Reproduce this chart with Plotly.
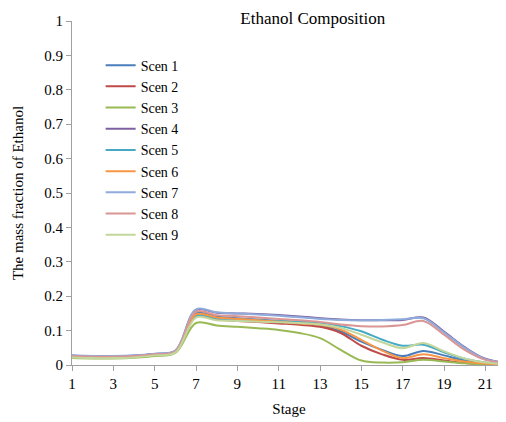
import plotly.graph_objects as go

stages = list(range(1, 23))
scen_names = ["Scen 1", "Scen 2", "Scen 3", "Scen 4", "Scen 5", "Scen 6", "Scen 7", "Scen 8", "Scen 9"]

scen1 = [0.027,0.025,0.025,0.027,0.032,0.040,0.150,0.140,0.136,0.132,0.128,0.123,0.115,0.098,0.068,0.044,0.026,0.041,0.028,0.013,0.006,0.003]
scen2 = [0.024,0.022,0.022,0.024,0.029,0.038,0.140,0.132,0.128,0.125,0.121,0.117,0.111,0.093,0.056,0.031,0.015,0.020,0.013,0.006,0.003,0.001]
scen3 = [0.020,0.019,0.019,0.021,0.026,0.035,0.122,0.115,0.111,0.107,0.102,0.093,0.078,0.044,0.013,0.007,0.008,0.015,0.010,0.005,0.002,0.001]
scen4 = [0.027,0.025,0.025,0.027,0.032,0.041,0.160,0.152,0.150,0.148,0.145,0.141,0.136,0.132,0.130,0.130,0.131,0.138,0.097,0.052,0.018,0.007]
scen5 = [0.025,0.023,0.023,0.025,0.030,0.039,0.143,0.135,0.132,0.130,0.128,0.126,0.123,0.113,0.098,0.074,0.056,0.059,0.037,0.018,0.007,0.003]
scen6 = [0.025,0.023,0.023,0.025,0.030,0.039,0.147,0.138,0.134,0.130,0.126,0.121,0.117,0.103,0.073,0.042,0.020,0.031,0.020,0.010,0.004,0.002]
scen7 = [0.028,0.026,0.026,0.028,0.033,0.042,0.162,0.153,0.150,0.147,0.143,0.139,0.134,0.131,0.130,0.131,0.133,0.136,0.095,0.050,0.017,0.007]
scen8 = [0.026,0.024,0.024,0.026,0.031,0.040,0.155,0.145,0.142,0.138,0.134,0.130,0.125,0.118,0.113,0.112,0.116,0.128,0.088,0.044,0.015,0.006]
scen9 = [0.022,0.020,0.020,0.022,0.028,0.036,0.138,0.130,0.128,0.126,0.124,0.122,0.118,0.108,0.088,0.066,0.049,0.064,0.040,0.019,0.007,0.003]

series = [scen1, scen2, scen3, scen4, scen5, scen6, scen7, scen8, scen9]
colors = ["#4A7EBB", "#BE4B48", "#98B954", "#7D60A0", "#46AAC5", "#F79646", "#8EABDB", "#D99694", "#C3D69B"]

x_ticks = list(range(1, 22, 2))
y_ticks = [0, 0.1, 0.2, 0.3, 0.4, 0.5, 0.6, 0.7, 0.8, 0.9, 1]
y_tick_labels = ["0", "0.1", "0.2", "0.3", "0.4", "0.5", "0.6", "0.7", "0.8", "0.9", "1"]

FONT = "Liberation Serif"

fig = go.Figure()
for name, vals, col in zip(scen_names, series, colors):
    fig.add_trace(go.Scatter(
        x=stages, y=vals, name=name, mode="lines",
        line=dict(color=col, width=2, shape="spline", smoothing=1.0),
    ))

# the page body adds an 8px offset, so the figure is 498x414
fig.update_layout(
    width=498, height=414,
    margin=dict(l=64, r=0, t=13, b=57, autoexpand=False),
    paper_bgcolor="white", plot_bgcolor="white",
    font=dict(family=FONT, size=15, color="black"),
    title=dict(text="Ethanol Composition", x=0.612, xanchor="center", y=0.976, yanchor="middle",
               font=dict(family=FONT, size=17, color="black")),
    showlegend=True,
    legend=dict(x=0.066, y=0.917, xanchor="left", yanchor="top",
                font=dict(family=FONT, size=14, color="black"),
                bgcolor="rgba(0,0,0,0)", itemwidth=30, tracegroupgap=0),
    xaxis=dict(range=[1, 22], tickmode="array", tickvals=x_ticks, ticktext=[str(v) for v in x_ticks],
               automargin=False,
               showgrid=False, zeroline=False, showline=True, linecolor="#A0A0A0", linewidth=1,
               ticks="outside", ticklen=5, tickcolor="#A0A0A0",
               title=dict(text="Stage", font=dict(family=FONT, size=15), standoff=12),
               tickfont=dict(family=FONT, size=15)),
    yaxis=dict(range=[0, 1], tickmode="array", tickvals=y_ticks, ticktext=y_tick_labels,
               automargin=False,
               showgrid=False, zeroline=False, showline=True, linecolor="#A0A0A0", linewidth=1,
               ticks="outside", ticklen=5, tickcolor="#A0A0A0",
               title=dict(text="The mass fraction of Ethanol", font=dict(family=FONT, size=15), standoff=17),
               tickfont=dict(family=FONT, size=15)),
)

fig.write_html("out.html")
